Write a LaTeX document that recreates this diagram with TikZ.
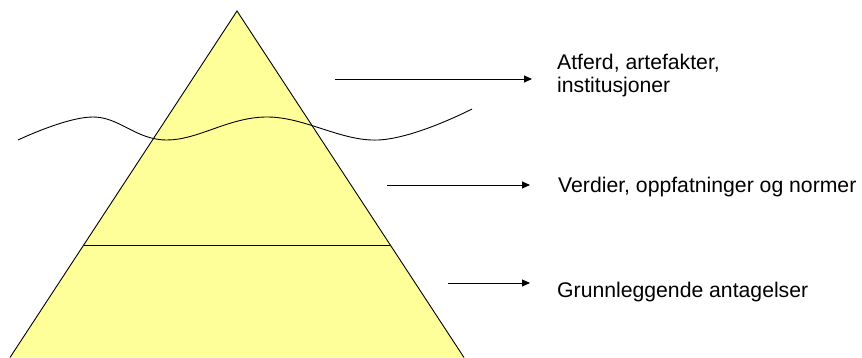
\documentclass[tikz,border=0pt]{standalone}
\usepackage{fontspec}
\setmainfont{Liberation Sans}
\usetikzlibrary{arrows.meta}
\definecolor{pyryellow}{HTML}{FFFF99}
\tikzset{
  px/.style={x=1pt,y=-1pt},
  outline/.style={draw=black,line width=0.9pt,line join=miter},
  pointer/.style={draw=black,line width=0.9pt,-{Triangle[length=8pt,width=7pt]}},
  label/.style={inner sep=0pt,anchor=base west,align=left,font=\fontsize{21.2}{23.5}\selectfont}
}
\begin{document}
\begin{tikzpicture}[px]
\useasboundingbox (0,0) rectangle (862,358);
% pyramid
\coordinate (apex) at (237,11);
\coordinate (bl) at (10,357.5);
\coordinate (br) at (464,357.5);
\fill[pyryellow] (apex) -- (bl) -- (br) -- cycle;
\draw[outline] (bl) -- (apex) -- (br);
\coordinate (hl) at (84,245);
\coordinate (hr) at (390,245);
\draw[outline] (hl) -- (hr);
% wave
\draw[outline] plot[smooth,tension=0.65] coordinates {(18,140) (93,117) (167,140) (267,117) (378,140) (472,109)};
% labels
\node[label] (t1) at (557,93) {Atferd, artefakter,\\institusjoner};
\node[label] (t2) at (558,193) {Verdier, oppfatninger og normer};
\node[label] (t3) at (557,297) {Grunnleggende antagelser};
% arrows
\coordinate (a1s) at (335,79); \coordinate (a1e) at (532,79);
\coordinate (a2s) at (387,185); \coordinate (a2e) at (530,185);
\coordinate (a3s) at (448,283); \coordinate (a3e) at (530,283);
\draw[pointer] (a1s) -- (a1e);
\draw[pointer] (a2s) -- (a2e);
\draw[pointer] (a3s) -- (a3e);
\end{tikzpicture}
\end{document}
